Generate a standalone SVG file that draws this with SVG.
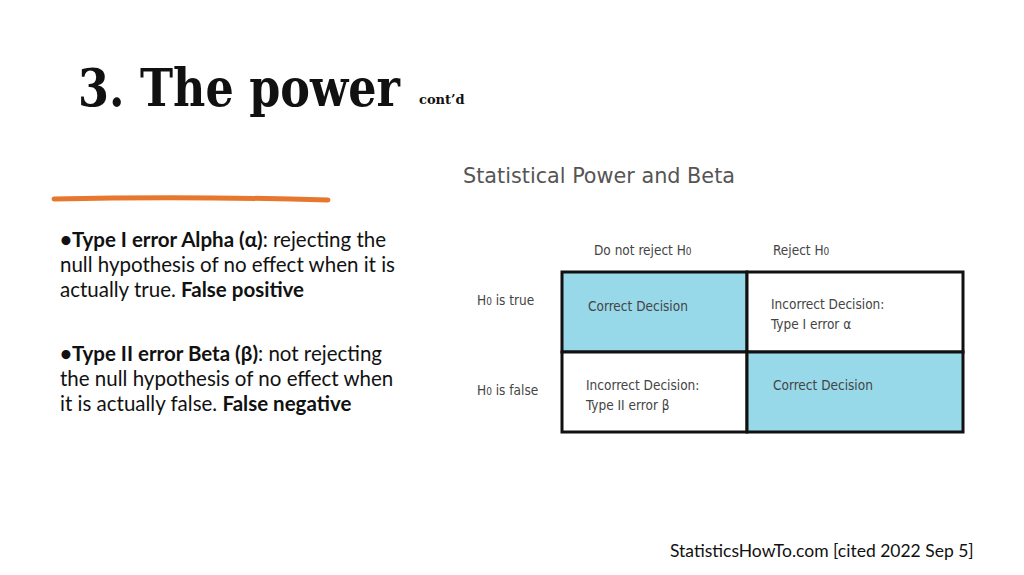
<svg xmlns="http://www.w3.org/2000/svg" width="1024" height="575" viewBox="0 0 1024 575">
<style>
.b{font-family:Lato,"Liberation Sans",Arial,sans-serif;font-size:20.5px;fill:#111}
.t{font-family:"DejaVu Sans Condensed","DejaVu Sans",sans-serif;font-size:13.5px;fill:#444}
.cell{stroke:#111;stroke-width:3}
</style>
<rect width="1024" height="575" fill="#fff"/>
<g id="title">
<text x="78" y="106" font-family="'DejaVu Serif',serif" font-weight="bold" font-size="52" fill="#111" textLength="322" lengthAdjust="spacingAndGlyphs">3. The power</text>
<text x="419" y="104" font-family="'DejaVu Serif',serif" font-weight="bold" font-size="13" fill="#111">cont’d</text>
</g>
<path d="M54 199 Q190 196 328 200" stroke="#e8772e" stroke-width="5" fill="none" stroke-linecap="round"/>
<g id="bullets">
<text class="b" x="60" y="247"><tspan font-weight="bold">•Type I error Alpha (α)</tspan>: rejecting the</text>
<text class="b" x="60" y="272">null hypothesis of no effect when it is</text>
<text class="b" x="60" y="297">actually true. <tspan font-weight="bold">False positive</tspan></text>
<text class="b" x="60" y="361"><tspan font-weight="bold">•Type II error Beta (β)</tspan>: not rejecting</text>
<text class="b" x="60" y="386">the null hypothesis of no effect when</text>
<text class="b" x="60" y="411">it is actually false. <tspan font-weight="bold">False negative</tspan></text>
</g>
<g id="table">
<text x="463" y="183" font-family="'DejaVu Sans Condensed','DejaVu Sans',sans-serif" font-size="22" fill="#555" textLength="272" lengthAdjust="spacingAndGlyphs">Statistical Power and Beta</text>
<text class="t" x="594" y="255">Do not reject H<tspan font-size="10">0</tspan></text>
<text class="t" x="773" y="255">Reject H<tspan font-size="10">0</tspan></text>
<text class="t" x="477" y="305">H<tspan font-size="10">0</tspan> is true</text>
<text class="t" x="477" y="395">H<tspan font-size="10">0</tspan> is false</text>
<rect class="cell" x="562" y="272" width="185" height="80" fill="#97d8e9"/>
<rect class="cell" x="747" y="272" width="216" height="80" fill="#fff"/>
<rect class="cell" x="562" y="352" width="185" height="80" fill="#fff"/>
<rect class="cell" x="747" y="352" width="216" height="80" fill="#97d8e9"/>
<text class="t" x="588" y="311">Correct Decision</text>
<text class="t" x="771" y="309">Incorrect Decision:</text>
<text class="t" x="771" y="329">Type I error  α</text>
<text class="t" x="586" y="390">Incorrect Decision:</text>
<text class="t" x="586" y="410">Type II error  β</text>
<text class="t" x="773" y="390">Correct Decision</text>
</g>
<text x="670" y="557" font-family="Lato,'Liberation Sans',Arial,sans-serif" font-size="17.5" fill="#111">StatisticsHowTo.com [cited 2022 Sep 5]</text>
</svg>
